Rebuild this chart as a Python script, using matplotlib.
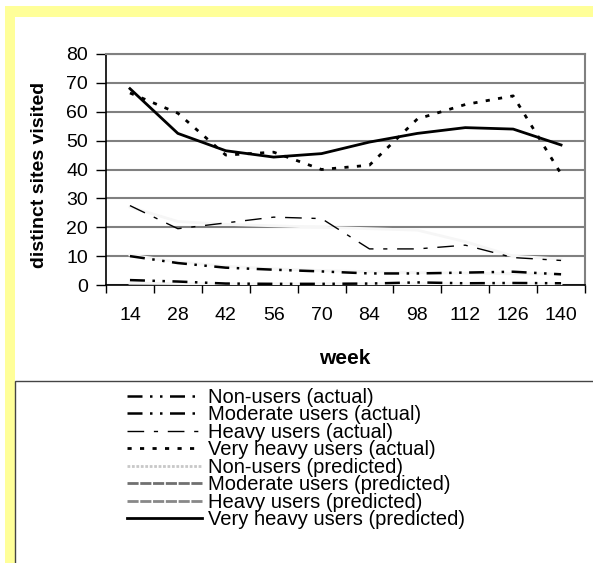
import matplotlib
matplotlib.use('Agg')
import matplotlib.pyplot as plt
from matplotlib.patches import Rectangle
from matplotlib.lines import Line2D
from matplotlib.ticker import FixedLocator, NullFormatter

plt.rcParams['font.family'] = ['Liberation Sans', 'DejaVu Sans']

# data
weeks = ['14', '28', '42', '56', '70', '84', '98', '112', '126', '140']
non_actual = [1.7, 1.2, 0.5, 0.4, 0.4, 0.5, 0.9, 0.6, 0.7, 0.6]
moderate_actual = [10.0, 7.6, 6.0, 5.3, 4.7, 4.0, 4.0, 4.3, 4.6, 3.7]
heavy_actual = [27.5, 19.5, 21.5, 23.5, 23.0, 12.5, 12.5, 13.8, 9.5, 8.5]
very_heavy_actual = [66.5, 59.5, 45.0, 46.0, 40.0, 41.5, 57.5, 62.5, 65.5, 38.5]
non_pred = [0.6, 0.5, 0.4, 0.4, 0.4, 0.4, 0.4, 0.4, 0.4, 0.4]
moderate_pred = [10.4, 8.0, 6.5, 5.6, 5.0, 4.6, 4.3, 4.1, 3.9, 3.8]
heavy_pred = [27.0, 22.0, 21.0, 20.5, 20.0, 19.5, 19.0, 15.0, 10.0, 9.0]
very_heavy_pred = [68.0, 52.5, 46.5, 44.3, 45.5, 49.5, 52.5, 54.5, 54.0, 48.5]

labels = ['Non-users (actual)', 'Moderate users (actual)', 'Heavy users (actual)',
          'Very heavy users (actual)', 'Non-users (predicted)', 'Moderate users (predicted)',
          'Heavy users (predicted)', 'Very heavy users (predicted)']

W, H = 593, 563
fig = plt.figure(figsize=(W / 100, H / 100), dpi=100)


def fx(x):
    return x / W


def fy(y):
    return 1 - y / H


# yellow frame and white panel
fig.add_artist(Rectangle((fx(5), 0), 1, fy(6), transform=fig.transFigure,
                         facecolor='#ffff99', edgecolor='none', zorder=-3))
fig.add_artist(Rectangle((fx(15), 0), 1, fy(17), transform=fig.transFigure,
                         facecolor='white', edgecolor='none', zorder=-2))
# legend box
fig.add_artist(Rectangle((fx(15), -0.1), 1, fy(381) + 0.1, transform=fig.transFigure,
                         facecolor='white', edgecolor='#444444', linewidth=1, zorder=-1))

ax = fig.add_axes([fx(106), fy(285), fx(585) - fx(106), fy(54) - fy(285)])
x = list(range(len(weeks)))

pred_color = '#f6f6f6'
ax.plot(x, non_pred, color=pred_color, lw=2, zorder=3)
ax.plot(x, moderate_pred, color=pred_color, lw=2, zorder=3)
ax.plot(x, heavy_pred, color=pred_color, lw=2, zorder=3)
ax.plot(x, non_actual, color='black', lw=1.8, dashes=(6, 3, 1, 3, 1, 3), zorder=4)
ax.plot(x, moderate_actual, color='black', lw=1.8, dashes=(6, 3, 1, 3, 1, 3), zorder=4)
ax.plot(x, heavy_actual, color='black', lw=1.0, dashes=(12, 7, 3, 7), zorder=4)
ax.plot(x, very_heavy_actual, color='black', lw=2.0, dashes=(1.5, 3), zorder=4)
ax.plot(x, very_heavy_pred, color='black', lw=2.0, zorder=5)

ax.set_xlim(-0.5, len(weeks) - 0.5)
ax.set_ylim(0, 80)
ax.set_yticks(range(0, 81, 10))
ax.yaxis.grid(True, color='#808080', lw=1.5)
ax.set_axisbelow(True)
ax.xaxis.set_major_locator(FixedLocator([i - 0.5 for i in range(len(weeks) + 1)]))
ax.xaxis.set_major_formatter(NullFormatter())
ax.xaxis.set_minor_locator(FixedLocator(x))
ax.set_xticklabels(weeks, minor=True)
ax.tick_params(axis='x', which='major', length=6, width=1, direction='out')
ax.tick_params(axis='x', which='minor', length=0, pad=16, labelsize=14)
ax.tick_params(axis='y', length=7, width=1, pad=6, labelsize=14)
for s in ['top', 'right']:
    ax.spines[s].set_color('#808080')
    ax.spines[s].set_linewidth(1.5)
for s in ['left', 'bottom']:
    ax.spines[s].set_color('black')
    ax.spines[s].set_linewidth(1.2)

fig.text(fx(345), fy(358), 'week', ha='center', va='center', fontsize=15, fontweight='bold')
fig.text(fx(40), fy(175), 'distinct sites visited', ha='center', va='center',
         rotation=90, fontsize=14, fontweight='bold')

handles = [
    Line2D([], [], color='black', lw=1.8, dashes=(6, 3, 1, 3, 1, 3)),
    Line2D([], [], color='black', lw=1.8, dashes=(6, 3, 1, 3, 1, 3)),
    Line2D([], [], color='black', lw=1.0, dashes=(12, 7, 3, 7)),
    Line2D([], [], color='black', lw=2.0, dashes=(1.5, 3)),
    Line2D([], [], color='#c8c8c8', lw=2.0, dashes=(1, 0.6)),
    Line2D([], [], color='#707070', lw=2.0, dashes=(4, 0.6)),
    Line2D([], [], color='#888888', lw=2.0, dashes=(4, 0.6)),
    Line2D([], [], color='black', lw=2.0),
]
fig.legend(handles, labels, loc='upper left', bbox_to_anchor=(fx(127), fy(388)),
           frameon=False, fontsize=14.5, handlelength=3.7, handletextpad=0.3,
           labelspacing=-0.075, borderpad=0, borderaxespad=0)

fig.savefig('out.png', dpi=100)
